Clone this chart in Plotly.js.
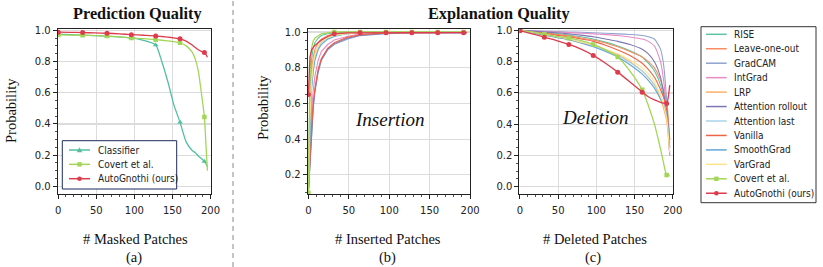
<!DOCTYPE html>
<html><head><meta charset="utf-8">
<script src="https://cdn.plot.ly/plotly-3.0.1.min.js"></script>
<style>html,body{margin:0;padding:0;background:#fff;} #chart{width:823px;height:267px;}</style>
</head><body><div id="chart"></div>
<script>
// ---------- Panel (a): Prediction quality ----------
const predX = [0,16,32,48,64,80,96,112,128,136,144,152,160,168,176,180,184,188,192,194,196];
const predClassifier = [0.975,0.972,0.969,0.966,0.962,0.957,0.951,0.935,0.906,0.80,0.67,0.52,0.41,0.285,0.23,0.215,0.195,0.178,0.16,0.145,0.125];
const predCovert     = [0.970,0.969,0.968,0.966,0.963,0.958,0.951,0.946,0.940,0.936,0.932,0.927,0.920,0.90,0.86,0.815,0.74,0.60,0.445,0.27,0.10];
const predAuto       = [0.988,0.987,0.985,0.983,0.981,0.977,0.972,0.968,0.964,0.960,0.956,0.951,0.945,0.93,0.905,0.89,0.875,0.865,0.858,0.845,0.827];

// ---------- Panel (b): Insertion ----------
const insX = [0,1,2,4,6,8,12,16,24,32,48,64,96,128,160,192,196];
const insRISE      = [0.10,0.45,0.68,0.85,0.91,0.94,0.965,0.98,0.99,0.995,1.0,1.0,1.0,1.0,1.0,1.0,1.0];
const insLOO       = [0.10,0.35,0.58,0.78,0.86,0.90,0.94,0.96,0.98,0.99,0.995,0.998,1.0,1.0,1.0,1.0,1.0];
const insGradCAM   = [0.10,0.18,0.28,0.45,0.57,0.66,0.77,0.84,0.90,0.93,0.96,0.98,0.99,0.995,0.995,0.995,0.995];
const insIntGrad   = [0.10,0.22,0.35,0.55,0.67,0.75,0.84,0.89,0.93,0.955,0.975,0.99,0.995,0.997,0.997,0.997,0.997];
const insLRP       = [0.10,0.35,0.55,0.75,0.84,0.88,0.92,0.95,0.97,0.985,0.99,0.995,1.0,1.0,1.0,1.0,1.0];
const insRollout   = [0.10,0.19,0.29,0.46,0.58,0.67,0.78,0.845,0.905,0.935,0.965,0.982,0.993,0.996,0.996,0.996,0.996];
const insAttLast   = [0.10,0.30,0.50,0.70,0.80,0.86,0.91,0.94,0.965,0.98,0.99,0.995,1.0,1.0,1.0,1.0,1.0];
const insVanilla   = [0.10,0.20,0.30,0.47,0.60,0.68,0.79,0.85,0.91,0.94,0.97,0.985,0.995,0.997,0.997,0.997,0.997];
const insSmooth    = [0.10,0.28,0.48,0.68,0.78,0.84,0.90,0.93,0.96,0.975,0.99,0.995,1.0,1.0,1.0,1.0,1.0];
const insVarGrad   = [0.10,0.30,0.52,0.72,0.82,0.87,0.92,0.945,0.97,0.98,0.99,0.995,1.0,1.0,1.0,1.0,1.0];
const insCovert    = [0.10,0.55,0.78,0.91,0.95,0.965,0.98,0.99,0.995,1.0,1.0,1.0,1.0,1.0,1.0,1.0,1.0];
const insAuto      = [0.65,0.80,0.86,0.90,0.915,0.925,0.94,0.955,0.975,0.99,0.995,0.996,0.996,0.996,0.996,0.996,0.996];

// ---------- Panel (c): Deletion ----------
const delX = [0,16,32,48,64,80,96,112,128,144,160,168,176,184,188,192,196];
const delRISE      = [1.0,0.995,0.988,0.98,0.97,0.96,0.945,0.925,0.90,0.87,0.83,0.79,0.74,0.65,0.58,0.50,0.25];
const delLOO       = [1.0,0.993,0.985,0.975,0.965,0.952,0.938,0.92,0.895,0.865,0.83,0.80,0.76,0.68,0.62,0.55,0.30];
const delGradCAM   = [1.0,0.998,0.995,0.993,0.99,0.988,0.985,0.982,0.978,0.974,0.968,0.96,0.945,0.88,0.78,0.55,0.20];
const delIntGrad   = [1.0,0.997,0.993,0.99,0.986,0.982,0.978,0.973,0.967,0.958,0.945,0.93,0.90,0.80,0.68,0.48,0.20];
const delLRP       = [1.0,0.985,0.97,0.955,0.94,0.92,0.90,0.875,0.845,0.80,0.74,0.70,0.65,0.56,0.50,0.42,0.22];
const delRollout   = [1.0,0.996,0.99,0.985,0.978,0.97,0.96,0.945,0.93,0.91,0.88,0.85,0.80,0.70,0.60,0.48,0.25];
const delAttLast   = [1.0,0.987,0.973,0.958,0.943,0.925,0.90,0.872,0.84,0.795,0.74,0.70,0.65,0.58,0.53,0.47,0.30];
const delVanilla   = [1.0,0.99,0.98,0.97,0.96,0.945,0.93,0.905,0.875,0.84,0.79,0.75,0.70,0.62,0.57,0.50,0.30];
const delSmooth    = [1.0,0.985,0.97,0.955,0.94,0.92,0.895,0.865,0.83,0.78,0.72,0.68,0.63,0.56,0.52,0.46,0.28];
const delVarGrad   = [1.0,0.988,0.975,0.96,0.945,0.925,0.905,0.88,0.85,0.81,0.76,0.72,0.67,0.58,0.52,0.44,0.22];
const delCovert    = [1.0,0.99,0.975,0.962,0.95,0.935,0.91,0.875,0.83,0.74,0.62,0.52,0.40,0.24,0.15,0.075,0.07];
const delAuto      = [0.998,0.978,0.957,0.935,0.91,0.88,0.84,0.79,0.733,0.67,0.605,0.575,0.555,0.54,0.535,0.532,0.65];

const methodNames = ["RISE","Leave-one-out","GradCAM","IntGrad","LRP","Attention rollout","Attention last","Vanilla","SmoothGrad","VarGrad","Covert et al.","AutoGnothi (ours)"];
const predNames = ["Classifier","Covert et al.","AutoGnothi (ours)"];
const xTicks = [0,50,100,150,200];

// ---------- styles ----------
const methodColors = ["#5ec4a2","#f98c62","#8fa2cf","#e98bc4","#fdb168","#7e76b4","#a9d3e8","#ee6446","#62a6d8","#fde48c","#a3d656","#dd3c4c"];
const classifierColor = "#52c0a0";
const insSeries = [insRISE,insLOO,insGradCAM,insIntGrad,insLRP,insRollout,insAttLast,insVanilla,insSmooth,insVarGrad,insCovert,insAuto];
const delSeries = [delRISE,delLOO,delGradCAM,delIntGrad,delLRP,delRollout,delAttLast,delVanilla,delSmooth,delVarGrad,delCovert,delAuto];

const W = 823, H = 267;
const px = v => v / W, py = v => 1 - v / H;

function lineTrace(x, y, color, xa, ya, width, shape) {
  return {x, y, type: "scatter", mode: "lines", xaxis: xa, yaxis: ya, showlegend: false,
    line: {color, width: width || 1.2, shape: shape || "spline", smoothing: 0.6}, hoverinfo: "skip"};
}
function markerTrace(x, y, color, xa, ya, symbol, size) {
  const mx = [], my = [];
  x.forEach((v, i) => { if (v % 32 === 0) { mx.push(v); my.push(y[i]); } });
  return {x: mx, y: my, type: "scatter", mode: "markers", xaxis: xa, yaxis: ya, showlegend: false,
    marker: {color, symbol, size: size || 5, line: {width: 0}}, hoverinfo: "skip"};
}

const traces = [];
// (a)
traces.push(lineTrace(predX, predClassifier, classifierColor, "x", "y", 1.3));
traces.push(markerTrace(predX, predClassifier, classifierColor, "x", "y", "triangle-up", 5));
traces.push(lineTrace(predX, predCovert, methodColors[10], "x", "y", 1.3));
traces.push(markerTrace(predX, predCovert, methodColors[10], "x", "y", "square", 4.5));
traces.push(lineTrace(predX, predAuto, methodColors[11], "x", "y", 1.3));
traces.push(markerTrace(predX, predAuto, methodColors[11], "x", "y", "circle", 5));
// (b) and (c)
[[insX, insSeries, "x2", "y2"], [delX, delSeries, "x3", "y3"]].forEach(([xs, series, xa, ya]) => {
  series.forEach((s, i) => {
    const w = i >= 10 ? 1.3 : 1.1;
    traces.push(lineTrace(xs, s, methodColors[i], xa, ya, w, xa === "x2" ? "linear" : "spline"));
    if (i === 10) traces.push(markerTrace(xs, s, methodColors[i], xa, ya, "square", 4.5));
    if (i === 11) traces.push(markerTrace(xs, s, methodColors[i], xa, ya, "circle", 5));
  });
});

const tickFont = {family: "DejaVu Sans", size: 10, color: "#222"};
function xAxis(domain, anchor) {
  return {domain, anchor, range: [-0.8, 200.3], tickvals: xTicks, ticktext: xTicks.map(String),
    showgrid: true, gridcolor: "#dcdcdc", gridwidth: 1.2, zeroline: false,
    showline: true, mirror: true, linecolor: "#222", linewidth: 1,
    ticks: "outside", ticklen: 4, tickwidth: 1, tickcolor: "#222", tickfont: tickFont, ticklabelstandoff: 3,
    minor: {dtick: 10, tick0: 0, ticks: "outside", ticklen: 2.2, tickwidth: 0.8, tickcolor: "#222", showgrid: false}};
}
function yAxis(domain, anchor, range, tickvals) {
  return {domain, anchor, range, tickvals, ticktext: tickvals.map(v => v.toFixed(1)),
    showgrid: true, gridcolor: "#dcdcdc", gridwidth: 1.2, zeroline: false,
    showline: true, mirror: true, linecolor: "#222", linewidth: 1,
    ticks: "outside", ticklen: 4, tickwidth: 1, tickcolor: "#222", tickfont: tickFont,
    minor: {dtick: 0.05, tick0: 0, ticks: "outside", ticklen: 2.2, tickwidth: 0.8, tickcolor: "#222", showgrid: false}};
}
const yDom = [1 - 194 / H, 1 - 28.7 / H];

const serif = "Liberation Serif";
const anns = [];
function txt(text, x, y, size, opts) {
  anns.push(Object.assign({text, x: px(x), y: py(y), xref: "paper", yref: "paper", showarrow: false,
    xanchor: "center", yanchor: "middle", font: {family: serif, size, color: "#111"}}, opts || {}));
}
txt("<b>Prediction Quality</b>", 137, 13, 16.3);
txt("<b>Explanation Quality</b>", 499, 13, 16.3);
txt("Probability", 11, 111, 14.5, {textangle: -90});
txt("Probability", 263, 108, 14.5, {textangle: -90});
txt("# Masked Patches", 135, 239, 14.5);
txt("# Inserted Patches", 388, 239, 14.5);
txt("# Deleted Patches", 595, 239, 14.5);
txt("(a)", 134, 257, 14.5);
txt("(b)", 387, 257, 14.5);
txt("(c)", 593, 257, 14.5);
txt("<i>Insertion</i>", 390, 119, 19);
txt("<i>Deletion</i>", 595, 118, 19);

const shapes = [];
shapes.push({type: "line", xref: "paper", yref: "paper", x0: px(233), x1: px(233), y0: 0, y1: 1,
  line: {color: "#c4c4c4", width: 2, dash: "5px,4px"}});

const legFont = {family: "DejaVu Sans Condensed, Liberation Sans Narrow, DejaVu Sans", size: 10, color: "#222"};
function legendBox(x0, x1, y0, y1, color) {
  shapes.push({type: "rect", xref: "paper", yref: "paper", x0: px(x0), x1: px(x1), y0: py(y1), y1: py(y0),
    fillcolor: "#ffffff", line: {color, width: 1}, layer: "above"});
}
function legendEntry(name, color, yc, lx0, lx1, tx, marker) {
  shapes.push({type: "line", xref: "paper", yref: "paper", x0: px(lx0), x1: px(lx1), y0: py(yc), y1: py(yc),
    line: {color, width: 1.5}, layer: "above"});
  const cx = (lx0 + lx1) / 2;
  if (marker === "circle") {
    shapes.push({type: "circle", xref: "paper", yref: "paper", x0: px(cx - 2.3), x1: px(cx + 2.3), y0: py(yc + 2.3), y1: py(yc - 2.3),
      fillcolor: color, line: {width: 0}, layer: "above"});
  } else if (marker === "square") {
    shapes.push({type: "rect", xref: "paper", yref: "paper", x0: px(cx - 2.2), x1: px(cx + 2.2), y0: py(yc + 2.2), y1: py(yc - 2.2),
      fillcolor: color, line: {width: 0}, layer: "above"});
  } else if (marker === "triangle") {
    shapes.push({type: "path", xref: "paper", yref: "paper",
      path: `M ${px(cx - 2.8)} ${py(yc + 2.2)} L ${px(cx + 2.8)} ${py(yc + 2.2)} L ${px(cx)} ${py(yc - 2.8)} Z`,
      fillcolor: color, line: {width: 0}, layer: "above"});
  }
  anns.push({text: name, x: px(tx), y: py(yc), xref: "paper", yref: "paper", showarrow: false,
    xanchor: "left", yanchor: "middle", font: legFont});
}
// legend (a)
legendBox(62.3, 176.7, 140.7, 189, "#1c2b5c");
const predColors = [classifierColor, methodColors[10], methodColors[11]];
const predMarkers = ["triangle", "square", "circle"];
predNames.forEach((n, i) => legendEntry(n, predColors[i], 150 + i * 14.35, 69, 90, 95.5, predMarkers[i]));
// legend (b, c)
legendBox(701, 816, 26.7, 202.7, "#333333");
methodNames.forEach((n, i) => legendEntry(n, methodColors[i], 34.3 + i * 14.45, 706, 726.7, 732, i === 10 ? "square" : (i === 11 ? "circle" : null)));

const layout = {
  width: W, height: H, margin: {l: 0, r: 0, t: 0, b: 0}, paper_bgcolor: "#fff", plot_bgcolor: "#fff",
  showlegend: false,
  xaxis: xAxis([57.7 / W, 210.7 / W], "y"),
  yaxis: yAxis(yDom, "x", [-0.049, 1.01], [0, 0.2, 0.4, 0.6, 0.8, 1.0]),
  xaxis2: xAxis([307.7 / W, 470.3 / W], "y2"),
  yaxis2: yAxis(yDom, "x2", [0.093, 1.0185], [0.2, 0.4, 0.6, 0.8, 1.0]),
  xaxis3: xAxis([519.3 / W, 673 / W], "y3"),
  yaxis3: yAxis(yDom, "x3", [-0.047, 1.011], [0, 0.2, 0.4, 0.6, 0.8, 1.0]),
  annotations: anns, shapes
};
Plotly.newPlot("chart", traces, layout, {staticPlot: true, displayModeBar: false});
</script></body></html>
